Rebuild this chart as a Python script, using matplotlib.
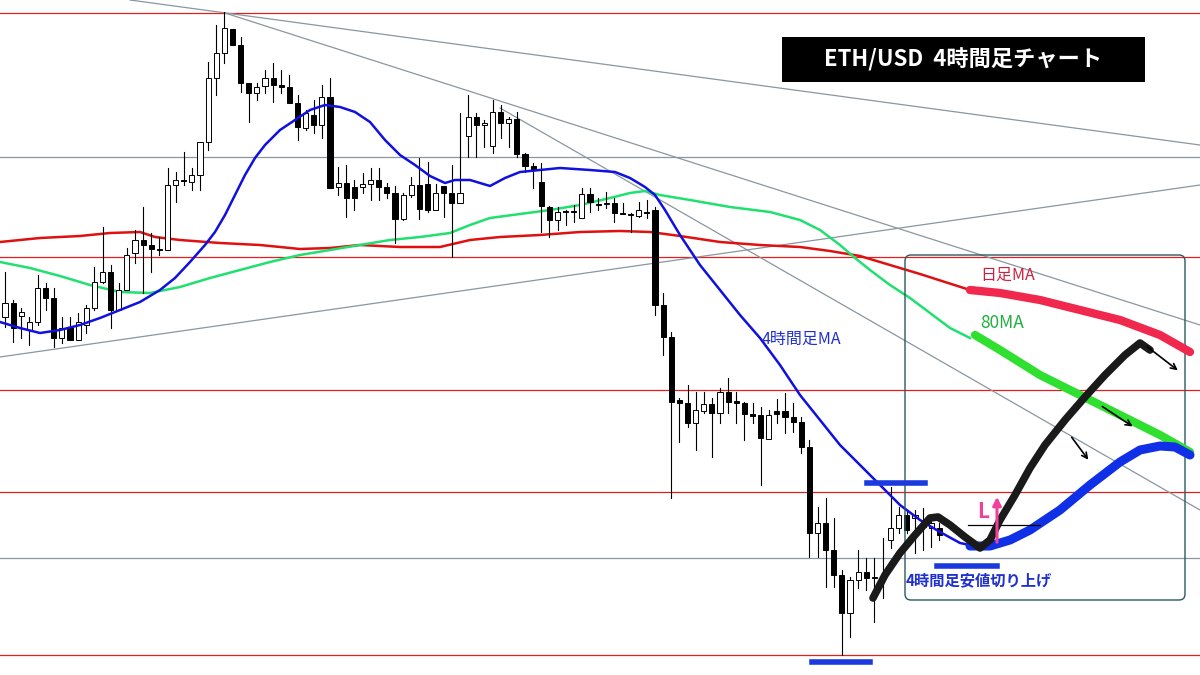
import matplotlib
matplotlib.use("Agg")
import matplotlib.pyplot as plt
from matplotlib.patches import FancyBboxPatch, Rectangle

plt.rcParams['font.family'] = ['Noto Sans CJK JP', 'DejaVu Sans']

# Candles (chart level units, larger = lower on chart)
opens = [317,303,316,330,322,288,298,338,327,340,325,308,282,272,310,290,253,240,245,250,250,185,180,182,175,142,78,53,29,45,83,93,86,78,85,87,103,128,115,125,97,187,
         183,187,187,184,180,187,193,219,195,185,184,210,186,193,203,136,117,125,146,112,123,119,154,166,182,207,220,211,211,218,194,204,204,203,213,214,216,212,
         210,305,337,400,403,423,411,404,413,392,401,403,414,415,439,411,411,417,422,447,533,523,550,575,613,580,572,578,577,540,528,515,518,520,528,528,537]
closes= [303,328,312,322,288,298,338,328,340,322,308,282,272,310,290,255,240,245,249,249,185,180,181,175,142,78,53,28,45,83,93,87,78,85,87,103,127,113,125,97,188,183,
         198,198,184,180,187,193,219,195,185,209,210,193,193,203,193,117,125,123,112,123,119,154,166,170,206,220,212,211,211,194,202,205,203,213,214,215,210,213,
         305,337,402,403,423,410,404,413,392,402,403,414,416,438,415,414,417,422,447,533,523,550,575,613,580,572,578,577,578,528,515,530,515,527,523,535,532]
highs = [272,300,308,317,275,283,288,317,317,313,305,267,227,265,283,248,230,207,233,237,168,172,152,168,142,62,25,12,29,37,83,83,70,63,70,75,95,110,100,85,78,167,
         165,180,173,168,168,183,186,193,177,158,162,184,186,165,113,95,113,120,100,105,117,112,153,163,163,206,207,210,205,188,188,198,192,198,203,213,202,200,
         207,293,332,398,385,392,392,398,388,378,392,402,403,407,410,399,393,403,417,440,507,498,518,570,577,550,558,558,538,487,507,512,510,508,520,523]
lows  = [327,342,338,345,325,310,347,343,340,340,333,310,283,328,310,290,263,293,272,255,250,202,185,190,190,150,95,63,45,92,122,100,93,102,93,103,140,130,133,138,188,195,
         217,210,193,200,200,198,243,220,197,219,212,208,217,257,202,157,157,147,153,138,147,157,172,188,232,237,230,225,222,218,212,210,208,222,213,232,217,218,
         315,355,498,442,427,450,413,457,423,413,423,440,423,485,433,423,433,432,453,557,557,587,587,655,637,588,590,622,598,548,533,533,553,550,547,540]

# Moving averages (x position, level)
ma4_x = [0,20,40,60,80,100,120,140,160,175,190,205,215,225,235,245,255,265,280,295,310,325,340,355,370,385,400,415,430,445,455,470,490,505,520,540,560,590,615,630,645,655,665,680,700,720,740,760,780,800,820,840,860,880,900,920,940,960,975]
ma4_y = [322,328,333,330,325,318,310,302,290,278,262,245,232,215,195,175,158,145,130,120,110,105,107,112,122,140,155,165,176,183,180,180,186,178,172,170,168,170,172,178,187,195,210,235,265,290,315,338,365,395,420,445,465,485,505,520,532,543,546]
ma80_x = [0,30,60,90,120,150,180,210,240,270,300,330,360,390,420,450,470,490,520,550,580,610,630,645,660,690,730,770,800,820,840,855,870,890,910,930,950,970]
ma80_y = [262,268,276,285,292,293,287,278,270,262,255,250,245,240,237,233,225,218,214,210,205,198,193,191,195,200,207,212,220,230,245,258,270,285,298,313,328,338]
mad_x = [0,40,80,110,140,155,180,220,260,300,330,360,400,440,470,500,540,580,620,650,680,720,760,800,830,860,880,900,920,945,970]
mad_y = [242,238,236,233,232,237,240,243,245,249,248,245,247,247,240,237,235,232,231,232,236,242,245,247,251,256,262,268,274,282,290]

# Projected paths
projd_x = [970,1000,1040,1080,1120,1160,1190]; projd_y = [290,293,300,310,320,335,352]
proj80_x = [975,1000,1040,1080,1120,1160,1190]; proj80_y = [335,350,375,395,415,435,452]
proj4_x = [970,990,1010,1030,1060,1090,1120,1140,1160,1175,1190]; proj4_y = [546,546,540,530,510,485,462,450,446,447,455]
projb_x = [873,885,900,915,930,938,950,965,980,990,1000,1015,1030,1045,1065,1085,1105,1125,1140,1150]
projb_y = [598,575,553,535,518,517,525,537,548,540,520,495,468,445,420,397,375,355,343,350]

red_levels = [13,257,390,492,655]
gray_levels = [157,558]

fig = plt.figure(figsize=(12, 6.75), dpi=100)
ax = fig.add_axes([0, 0, 1, 1])
ax.set_xlim(0, 1200); ax.set_ylim(675, 0); ax.axis('off')

for y in red_levels:
    ax.axhline(y, color='#e02020', lw=0.9, zorder=1)
for y in gray_levels:
    ax.axhline(y, color='#8a96a0', lw=0.9, zorder=1)
for (x1, y1, x2, y2) in [(130, 0, 1200, 145), (225, 13, 1200, 325), (500, 108, 1200, 510), (0, 357, 1200, 185)]:
    ax.plot([x1, x2], [y1, y2], color='#8a96a0', lw=0.9, zorder=1)

ax.plot(mad_x, mad_y, color='#e01010', lw=1.8, zorder=2)
ax.plot(ma80_x, ma80_y, color='#20e070', lw=1.8, zorder=2)
ax.plot(ma4_x, ma4_y, color='#1010e0', lw=1.8, zorder=4)

step = 8.125
for i, (o, c, h, l) in enumerate(zip(opens, closes, highs, lows)):
    x = 5 + step * i
    ax.plot([x, x], [h, l], color='black', lw=0.8, zorder=3)
    top = min(o, c); bh = max(abs(o - c), 1.2)
    face = 'white' if c < o else 'black'
    ax.add_patch(Rectangle((x - 2.6, top), 5.2, bh, facecolor=face, edgecolor='black', lw=0.7, zorder=3))

ax.add_patch(FancyBboxPatch((905, 255), 280, 345, boxstyle='round,pad=0,rounding_size=6',
                            facecolor='none', edgecolor='#2a5a60', lw=1.0, zorder=5))

ax.plot(projd_x, projd_y, color='#f0284e', lw=6, solid_capstyle='round', zorder=6)
ax.plot(proj80_x, proj80_y, color='#30e030', lw=6, solid_capstyle='round', zorder=6)
ax.plot(proj4_x, proj4_y, color='#1030e8', lw=6.5, solid_capstyle='round', zorder=6)
ax.plot(projb_x, projb_y, color='#1a1a1a', lw=5.5, solid_capstyle='round', solid_joinstyle='round', zorder=7)

for (x1, y1, x2, y2) in [(1145, 345, 1180, 372), (1100, 405, 1135, 428), (1070, 435, 1090, 462)]:
    ax.annotate('', xy=(x2, y2), xytext=(x1, y1),
                arrowprops=dict(arrowstyle='->', color='black', lw=1.2), zorder=8)

for (x1, x2, y) in [(867, 925, 483), (937, 997, 566), (812, 870, 662)]:
    ax.plot([x1, x2], [y, y], color='#1a3ae0', lw=4, zorder=6)

ax.plot([968, 1040], [525, 525], color='black', lw=0.9, zorder=6)
ax.text(983, 522, 'L', color='#f0409a', fontsize=15, fontweight='bold', ha='center', va='bottom', zorder=8)
ax.annotate('', xy=(997, 494), xytext=(997, 545),
            arrowprops=dict(arrowstyle='-|>', color='#f0409a', lw=2.2, mutation_scale=12), zorder=8)

ax.text(980, 275, '日足MA', color='#d02040', fontsize=11.5, va='center', zorder=8)
ax.text(980, 323, '80MA', color='#20b040', fontsize=12.5, va='center', zorder=8)
ax.text(762, 339, '4時間足MA', color='#2030d0', fontsize=11.5, va='center', zorder=8)
ax.text(906, 580, '4時間足安値切り上げ', color='#2030d0', fontsize=11, fontweight='bold', va='center', zorder=8)

ax.add_patch(Rectangle((782, 37), 363, 45, facecolor='black', edgecolor='none', zorder=9))
ax.text(963, 59.5, 'ETH/USD  4時間足チャート', color='white', fontsize=16, fontweight='bold',
        ha='center', va='center', zorder=10)

fig.savefig('out.png', dpi=100)
